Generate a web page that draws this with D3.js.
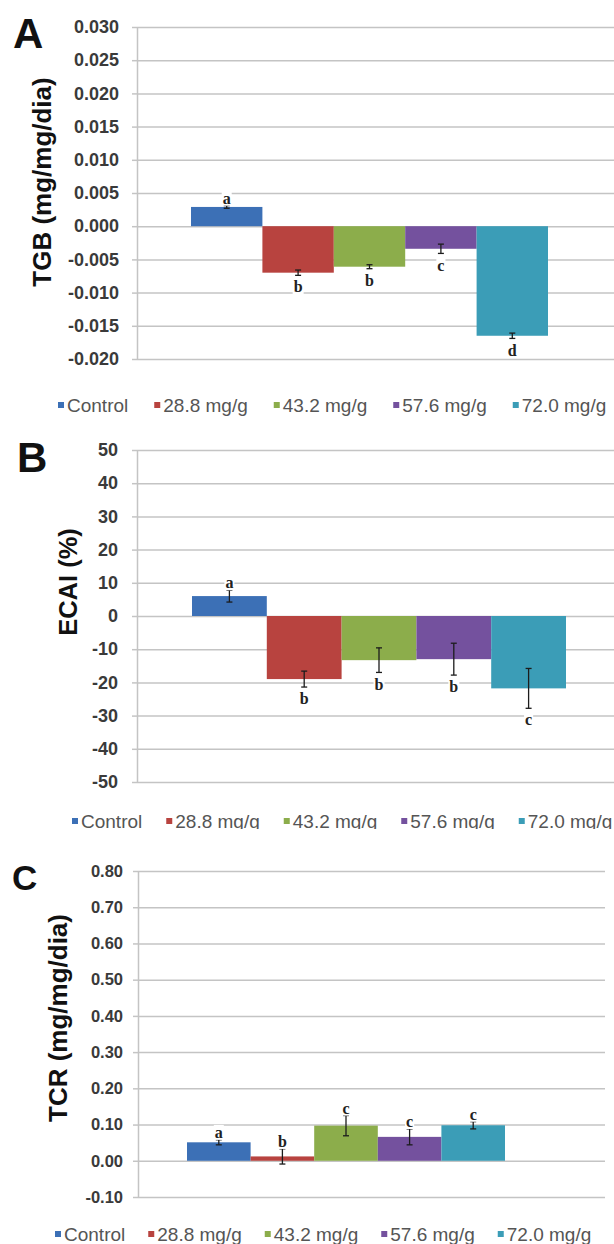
<!DOCTYPE html>
<html lang="en">
  <head>
    <meta charset="UTF-8" />
    <script src="https://cdn.jsdelivr.net/npm/d3@7/dist/d3.min.js"></script>
    <title>TGB / ECAI / TCR</title>
    <style>
      body { margin: 0; background: #fff; }
      svg { display: block; }
    </style>
  </head>
  <body>
    <svg width="614" height="1244" id="chart"></svg>
    <script>
      // groups (legend order)
      const groups = ['Control', '28.8 mg/g', '43.2 mg/g', '57.6 mg/g', '72.0 mg/g'];
      const colors = ['#3c70b6', '#b8433f', '#8cad4b', '#74519e', '#3b9db7'];

      // A - TGB
      const tgbTicks = [-0.020, -0.015, -0.010, -0.005, 0.000, 0.005, 0.010, 0.015, 0.020, 0.025, 0.030];
      const tgbValues = [0.0029, -0.0070, -0.0061, -0.0034, -0.0165];
      const tgbErrors = [0.0002, 0.0004, 0.0003, 0.0007, 0.0004];
      const tgbLetters = ['a', 'b', 'b', 'c', 'd'];

      // B - ECAI
      const ecaiTicks = [-50, -40, -30, -20, -10, 0, 10, 20, 30, 40, 50];
      const ecaiValues = [6.0, -19.0, -13.3, -13.0, -21.8];
      const ecaiErrors = [1.8, 2.4, 3.7, 4.8, 6.0];
      const ecaiLetters = ['a', 'b', 'b', 'b', 'c'];

      // C - TCR
      const tcrTicks = [-0.10, 0.00, 0.10, 0.20, 0.30, 0.40, 0.50, 0.60, 0.70, 0.80];
      const tcrValues = [0.051, 0.012, 0.097, 0.066, 0.098];
      const tcrErrors = [0.007, 0.021, 0.028, 0.022, 0.010];
      const tcrLetters = ['a', 'b', 'c', 'c', 'c'];

      const svg = d3.select('#chart');
      svg.append('rect').attr('width', 614).attr('height', 1244).attr('fill', '#fff');

      const gridColor = '#c4c4c4';

      function panel(cfg) {
        const g = svg.append('g');
        const y = d3.scaleLinear().domain(d3.extent(cfg.ticks)).range(cfg.yRange);
        const x = d3.scaleBand().domain(groups).range(cfg.barRange).paddingInner(0);

        // gridlines
        g.append('g')
          .attr('transform', `translate(${cfg.axisX},0)`)
          .call(d3.axisLeft(y).tickValues(cfg.ticks).tickSize(-(cfg.gridRight - cfg.axisX)).tickFormat(''))
          .call(s => s.select('.domain').remove())
          .call(s => s.selectAll('line').attr('stroke', gridColor).attr('stroke-width', 1.5));

        // axis with outward ticks + labels
        g.append('g')
          .attr('transform', `translate(${cfg.axisX},0)`)
          .call(d3.axisLeft(y).tickValues(cfg.ticks).tickSizeInner(5).tickSizeOuter(0)
            .tickPadding(cfg.pad).tickFormat(d => d.toFixed(cfg.digits)))
          .call(s => s.select('.domain').attr('stroke', gridColor).attr('stroke-width', 1.5))
          .call(s => s.selectAll('line').attr('stroke', gridColor).attr('stroke-width', 1.5))
          .call(s => s.selectAll('text')
            .attr('font-family', 'Liberation Sans, Arial, sans-serif')
            .attr('font-weight', 'bold')
            .attr('font-size', cfg.tickSize)
            .attr('fill', '#3a3a3a'));

        const data = groups.map((k, i) => ({ k, v: cfg.values[i], e: cfg.errors[i], l: cfg.letters[i], c: colors[i] }));

        // bars
        g.selectAll('.bar')
          .data(data)
          .enter()
          .append('rect')
          .attr('class', 'bar')
          .attr('x', d => x(d.k))
          .attr('width', x.bandwidth())
          .attr('y', d => y(Math.max(0, d.v)))
          .attr('height', d => Math.abs(y(d.v) - y(0)))
          .attr('fill', d => d.c);

        // error bars
        const eb = g.selectAll('.err').data(data).enter().append('g').attr('class', 'err')
          .attr('transform', d => `translate(${x(d.k) + x.bandwidth() / 2},0)`)
          .attr('stroke', '#1c1c1c').attr('stroke-width', 1.3);
        eb.append('line').attr('y1', d => y(d.v - d.e)).attr('y2', d => y(d.v + d.e));
        eb.append('line').attr('x1', -3).attr('x2', 3).attr('y1', d => y(d.v - d.e)).attr('y2', d => y(d.v - d.e));
        eb.append('line').attr('x1', -3).attr('x2', 3).attr('y1', d => y(d.v + d.e)).attr('y2', d => y(d.v + d.e));

        // significance letters with white box
        const lab = g.selectAll('.lab').data(data).enter().append('g').attr('class', 'lab')
          .attr('transform', d => {
            const ly = d.v >= 0 ? y(d.v + d.e) - 7 : y(d.v - d.e) + 12;
            return `translate(${x(d.k) + x.bandwidth() / 2},${ly})`;
          });
        lab.append('rect');
        lab.append('text')
          .attr('text-anchor', 'middle')
          .attr('dy', '0.32em')
          .attr('font-family', 'Liberation Serif, Times New Roman, serif')
          .attr('font-weight', 'bold')
          .attr('font-size', 16)
          .attr('fill', '#222')
          .text(d => d.l);
        lab.each(function () {
          const t = d3.select(this).select('text').node().getBBox();
          d3.select(this).select('rect')
            .attr('x', t.x - 1).attr('y', t.y + 1).attr('width', t.width + 2).attr('height', t.height - 2)
            .attr('fill', '#fff');
        });

        // y title
        g.append('text')
          .attr('transform', `translate(${cfg.titleX},${cfg.titleY}) rotate(-90)`)
          .attr('text-anchor', 'middle')
          .attr('font-family', 'Liberation Sans, Arial, sans-serif')
          .attr('font-weight', 'bold')
          .attr('font-size', cfg.titleSize)
          .attr('fill', '#111')
          .text(cfg.title);

        // panel letter
        g.append('text')
          .attr('x', cfg.tagX).attr('y', cfg.tagY)
          .attr('font-family', 'Liberation Sans, Arial, sans-serif')
          .attr('font-weight', 'bold')
          .attr('font-size', cfg.tagSize)
          .attr('fill', '#111')
          .text(cfg.tag);

        // legend
        const leg = g.append('g');
        if (cfg.clipY) {
          const id = 'clip' + cfg.tag;
          svg.append('clipPath').attr('id', id).append('rect')
            .attr('x', 0).attr('y', cfg.legendY - 40).attr('width', 614).attr('height', 40 + cfg.clipY);
          leg.attr('clip-path', `url(#${id})`);
        }
        let lx = cfg.legendX;
        groups.forEach((k, i) => {
          leg.append('rect')
            .attr('x', lx).attr('y', cfg.legendY - 10).attr('width', 6).attr('height', 6)
            .attr('fill', colors[i]);
          const t = leg.append('text')
            .attr('x', lx + 9).attr('y', cfg.legendY)
            .attr('font-family', 'Liberation Sans, Arial, sans-serif')
            .attr('font-size', 19)
            .attr('fill', '#555')
            .text(k);
          lx += 9 + t.node().getComputedTextLength() + cfg.legendGap;
        });
      }

      panel({
        tag: 'A', tagX: 13, tagY: 48, tagSize: 42,
        ticks: tgbTicks, values: tgbValues, errors: tgbErrors, letters: tgbLetters,
        yRange: [359, 27], axisX: 137, gridRight: 614, barRange: [191, 548],
        pad: 13, digits: 3, tickSize: 18,
        title: 'TGB (mg/mg/dia)', titleX: 51, titleY: 182, titleSize: 26,
        legendX: 58, legendY: 412, legendGap: 26
      });

      panel({
        tag: 'B', tagX: 17, tagY: 472, tagSize: 42,
        ticks: ecaiTicks, values: ecaiValues, errors: ecaiErrors, letters: ecaiLetters,
        yRange: [782, 450], axisX: 137, gridRight: 614, barRange: [192, 566],
        pad: 14, digits: 0, tickSize: 18,
        title: 'ECAI (%)', titleX: 77, titleY: 582, titleSize: 25.5,
        legendX: 72, legendY: 828, legendGap: 24, clipY: 1
      });

      panel({
        tag: 'C', tagX: 12, tagY: 890, tagSize: 35,
        ticks: tcrTicks, values: tcrValues, errors: tcrErrors, letters: tcrLetters,
        yRange: [1197, 871], axisX: 138, gridRight: 605, barRange: [187, 505],
        pad: 10, digits: 2, tickSize: 16.5,
        title: 'TCR (mg/mg/dia)', titleX: 67, titleY: 1018, titleSize: 26,
        legendX: 55, legendY: 1241, legendGap: 23
      });
    </script>
  </body>
</html>
